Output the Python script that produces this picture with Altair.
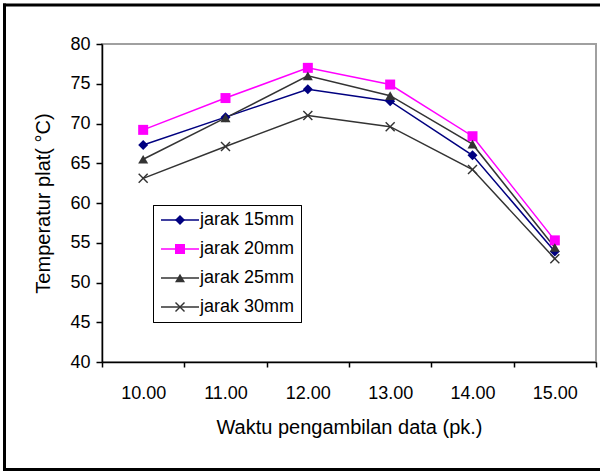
import altair as alt
import pandas as pd

times = ["10.00", "11.00", "12.00", "13.00", "14.00", "15.00"]
series = ["jarak 15mm", "jarak 20mm", "jarak 25mm", "jarak 30mm"]
v15 = [67.3, 70.8, 74.3, 72.8, 66.0, 53.9]
v20 = [69.2, 73.2, 77.0, 74.9, 68.4, 55.3]
v25 = [65.5, 70.7, 76.0, 73.5, 67.4, 54.4]
v30 = [63.1, 67.1, 71.0, 69.6, 64.2, 53.0]
colors = ["#000080", "#FF00FF", "#333333", "#333333"]
xshape = ("M-1,-0.8L-0.8,-1L0,-0.2L0.8,-1L1,-0.8L0.2,0L1,0.8L0.8,1"
          "L0,0.2L-0.8,1L-1,0.8L-0.2,0Z")
shapes = ["diamond", "square", "triangle-up", xshape]

rows = []
for name, vals in zip(series, [v15, v20, v25, v30]):
    for t, v in zip(times, vals):
        rows.append({"series": name, "time": t, "value": v})
df = pd.DataFrame(rows)

FONT = "Liberation Sans"

x_enc = alt.X(
    "time:O", sort=times, bandPosition=0.5,
    scale=alt.Scale(type="band", paddingInner=0, paddingOuter=0),
    axis=alt.Axis(title="Waktu pengambilan data (pk.)", labelAngle=0,
                  tickBand="extent", tickSize=5, labelPadding=17,
                  titlePadding=15),
)
y_enc = alt.Y(
    "value:Q",
    scale=alt.Scale(domain=[40, 80], nice=False, zero=False),
    axis=alt.Axis(title="Temperatur plat( °C)", values=list(range(40, 81, 5)),
                  tickSize=6, labelPadding=6, titlePadding=16, grid=False),
)

leg_common = dict(orient="none", legendX=51, legendY=161, title=None,
                  labelFontSize=18, labelFont=FONT, padding=6, rowPadding=11,
                  strokeColor="black", symbolOffset=12, labelOffset=11,
                  symbolSize=100)

lines = alt.Chart(df).mark_line(strokeWidth=1.5).encode(
    x=x_enc, y=y_enc,
    stroke=alt.Stroke("series:N", sort=series,
                      scale=alt.Scale(domain=series, range=colors),
                      legend=alt.Legend(symbolType="M-3.8,0H3.8",
                                        symbolStrokeWidth=1.5,
                                        **leg_common)),
)

points = alt.Chart(df).mark_point(filled=True, size=100, opacity=1).encode(
    x=x_enc, y=y_enc,
    fill=alt.Fill("series:N", sort=series,
                  scale=alt.Scale(domain=series, range=colors),
                  legend=alt.Legend(labelOpacity=0, symbolStrokeWidth=0,
                                    **leg_common)),
    shape=alt.Shape("series:N", sort=series,
                    scale=alt.Scale(domain=series, range=shapes),
                    legend=alt.Legend(labelOpacity=0, symbolStrokeWidth=0,
                                      **leg_common)),
)

# decorative outer frame: left, top and bottom edges (right runs off-page)
frame = alt.Chart(alt.Data(values=[{"a": 1}])).mark_rule(
    stroke="black", strokeWidth=3
).encode(
    x=alt.value(-97.5), y=alt.value(-40.5), y2=alt.value(427)
)
frame_top = alt.Chart(alt.Data(values=[{"a": 1}])).mark_rule(
    stroke="black", strokeWidth=3
).encode(
    x=alt.value(-99), x2=alt.value(520), y=alt.value(-39)
)
frame_bot = alt.Chart(alt.Data(values=[{"a": 1}])).mark_rule(
    stroke="black", strokeWidth=3
).encode(
    x=alt.value(-99), x2=alt.value(520), y=alt.value(425.5)
)

chart = alt.layer(frame, frame_top, frame_bot, lines, points).resolve_legend(
    stroke="independent", fill="independent", shape="independent"
).properties(
    width=494, height=318,
    autosize=alt.AutoSizeParams(type="none"),
    padding={"left": 102, "top": 44, "right": 4, "bottom": 110},
    background="white",
).configure_view(
    stroke="#a0a0a0", strokeWidth=2
).configure_axis(
    domainColor="black", domainWidth=1.5, tickColor="black", tickWidth=1.5,
    labelFont=FONT, titleFont=FONT, labelFontSize=18, titleFontSize=20,
    labelColor="black", titleColor="black", titleFontWeight="normal",
)

chart.save("out.html", embed_options={"renderer": "svg", "actions": False})
